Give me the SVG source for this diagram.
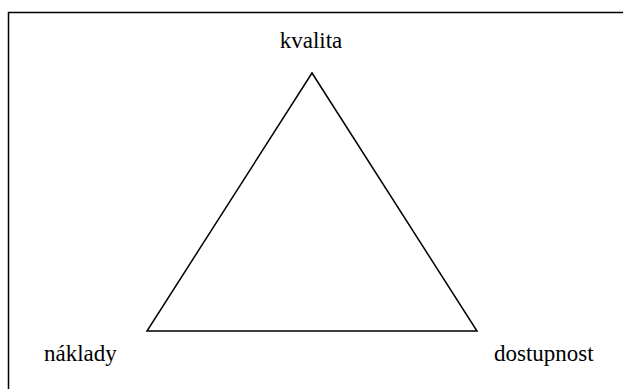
<svg xmlns="http://www.w3.org/2000/svg" width="623" height="389" viewBox="0 0 623 389">
<style>
.lbl{font-family:"Liberation Serif","Times New Roman",serif;font-size:23px;fill:#000}
.ln{fill:none;stroke:#000;stroke-width:1.5}
</style>
<rect x="0" y="0" width="623" height="389" fill="#fff"/>
<rect class="ln" x="8.5" y="12.5" width="630" height="390"/>
<g id="connectors">
<path class="ln" d="M312,73 L147,331 L477,331 Z" stroke-linejoin="miter"/>
</g>
<g id="kvalita"><text class="lbl" x="311" y="48" text-anchor="middle">kvalita</text></g>
<g id="naklady"><text class="lbl" x="44" y="361">náklady</text></g>
<g id="dostupnost"><text class="lbl" x="494" y="361">dostupnost</text></g>
</svg>
